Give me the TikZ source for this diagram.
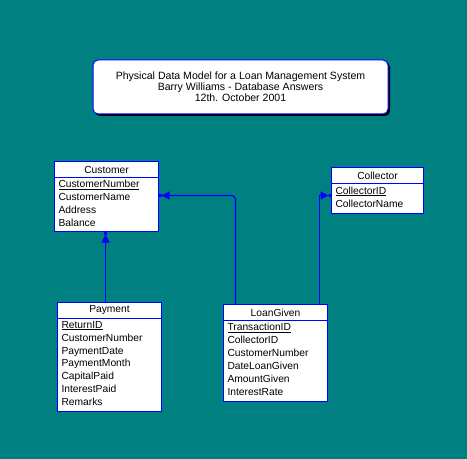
\documentclass[tikz,border=0pt]{standalone}
\usepackage{fontspec}
\setmainfont{Liberation Sans}
\usetikzlibrary{arrows.meta,shadows}
\definecolor{bg}{HTML}{008080}
\definecolor{ln}{HTML}{0000FF}
\begin{document}
\begin{tikzpicture}[x=1bp,y=-1bp,
  box/.style={draw=ln, fill=white, line width=1bp, inner xsep=4bp, inner ysep=0pt, outer sep=0pt,
    font=\fontsize{10.3}{13}\selectfont, anchor=north west},
  hdr/.style={box, minimum height=16bp, align=center},
  bodybox/.style={box, align=left},
  conn/.style={draw=ln, line width=1.2bp,
    -{Triangle[length=8bp,width=8bp,sep=0pt,fill=ln]Rectangle[length=3bp,width=3bp,sep=0pt,fill=ln]}},
  titlebox/.style={draw=ln, fill=white, line width=1bp, rounded corners=5bp,
    minimum width=295bp, minimum height=54bp, align=center,
    font=\fontsize{10.6}{11}\selectfont,
    drop shadow={shadow xshift=2bp, shadow yshift=-2bp, fill=black, opacity=1}}
]
\useasboundingbox (0,0) rectangle (467,459);
\fill[bg] (0,0) rectangle (467,459);

\node[titlebox] (title) at (240.5,87) {\vspace{-2pt}Physical Data Model for a Loan Management System\\Barry Williams - Database Answers\\12th. October 2001};

% Customer
\node[hdr, text width=96bp] (cust) at (54.5,161.5) {Customer};
\node[bodybox, text width=96bp, minimum height=54bp] (custb) at (cust.south west)
  {\underline{CustomerNumber}\\CustomerName\\Address\\Balance\vspace{3pt}};

% Collector
\node[hdr, text width=84bp] (coll) at (331.5,167.5) {Collector};
\node[bodybox, text width=84bp, minimum height=30bp] (collb) at (coll.south west)
  {\underline{CollectorID}\\CollectorName\vspace{3pt}};

% Payment
\node[hdr, text width=96bp] (pay) at (57.5,302.5) {Payment};
\node[bodybox, text width=96bp, minimum height=93bp] (payb) at (pay.south west)
  {\underline{ReturnID}\\CustomerNumber\\PaymentDate\\PaymentMonth\\CapitalPaid\\InterestPaid\\Remarks\vspace{3pt}};

% LoanGiven
\node[hdr, text width=96bp] (loan) at (223.5,304.5) {LoanGiven};
\node[bodybox, text width=96bp, minimum height=81bp] (loanb) at (loan.south west)
  {\underline{TransactionID}\\CollectorID\\CustomerNumber\\DateLoanGiven\\AmountGiven\\InterestRate\vspace{3pt}};

% connectors
\draw[conn] ([xshift=-1bp]custb.south |- pay.north) -- ([xshift=-1bp]custb.south);
\draw[conn, rounded corners=4bp] ([xshift=12bp]loan.north west) |- ([yshift=-18bp]custb.north east);
\draw[conn] ([xshift=-8bp]loan.north east) |- ([yshift=-12bp]collb.north west);
\end{tikzpicture}
\end{document}
